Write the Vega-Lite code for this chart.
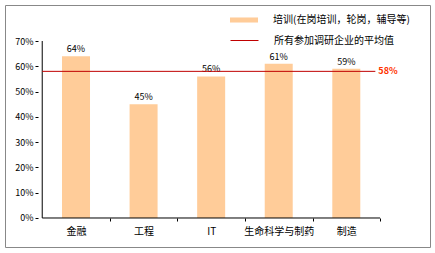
{
  "$schema": "https://vega.github.io/schema/vega-lite/v6.json",
  "width": 425,
  "height": 242,
  "autosize": {"type": "none"},
  "padding": {"left": 5, "top": 5, "right": 5, "bottom": 6},
  "background": "white",
  "config": {
    "view": {"stroke": "#888888", "strokeWidth": 1},
    "font": "Noto Sans CJK SC",
    "axis": {"grid": false, "domain": false, "title": null, "labelColor": "#000000", "tickColor": "#000000", "labelFont": "Noto Sans CJK SC"}
  },
  "datasets": {
    "bars": [
      {"idx": 0, "category": "金融", "value": 0.64},
      {"idx": 1, "category": "工程", "value": 0.45},
      {"idx": 2, "category": "IT", "value": 0.56},
      {"idx": 3, "category": "生命科学与制药", "value": 0.61},
      {"idx": 4, "category": "制造", "value": 0.59}
    ],
    "avg": [{"series": "所有参加调研企业的平均值", "value": 0.58}]
  },
  "layer": [
    {
      "data": {"name": "bars"},
      "mark": {"type": "bar", "width": 28, "color": "#FFCC99"},
      "encoding": {
        "x": {
          "field": "idx", "type": "quantitative",
          "scale": {"domain": [-0.9769, 5.1647], "nice": false, "zero": false},
          "axis": {
            "offset": -29,
            "values": [0, 0.5, 1, 1.5, 2, 2.5, 3, 3.5, 4, 4.5],
            "tickCount": 20,
            "labelExpr": "datum.value % 1 ? '' : ['金融','工程','IT','生命科学与制药','制造'][datum.value]",
            "tickSize": 3,
            "tickOpacity": {"condition": {"test": "datum.value % 1 === 0", "value": 0}, "value": 1},
            "labelPadding": 5,
            "labelFontSize": 10,
            "labelAngle": 0,
            "labelOverlap": false,
            "labelBound": false,
            "labelFlush": false
          }
        },
        "y": {
          "field": "value", "type": "quantitative",
          "scale": {"domain": [-0.1147, 0.8424], "nice": false, "zero": false},
          "axis": {
            "offset": -33,
            "values": [0, 0.1, 0.2, 0.3, 0.4, 0.5, 0.6, 0.7],
            "tickCount": 20,
            "format": ".0%",
            "tickSize": 3,
            "labelPadding": 2,
            "labelFontSize": 9,
            "labelOverlap": false,
            "labelBound": false,
            "labelFlush": false
          }
        },
        "color": {
          "datum": "培训(在岗培训，轮岗，辅导等)",
          "scale": {"range": ["#FFCC99"]},
          "legend": {
            "orient": "none", "legendX": 225, "legendY": 1, "title": null, "padding": 0,
            "symbolType": "M-1,-0.18H1V0.18H-1Z", "symbolSize": 784, "symbolStrokeWidth": 0,
            "labelOffset": 15, "labelFontSize": 10, "labelColor": "#000000"
          }
        }
      }
    },
    {
      "data": {"name": "bars"},
      "mark": {"type": "text", "dy": -7, "fontSize": 9, "color": "#000000"},
      "encoding": {
        "x": {"field": "idx", "type": "quantitative"},
        "y": {"field": "value", "type": "quantitative"},
        "text": {"field": "value", "type": "quantitative", "format": ".0%"}
      }
    },
    {
      "data": {"values": [{}]},
      "mark": {"type": "rule", "color": "#000000", "strokeWidth": 1},
      "encoding": {
        "x": {"datum": -0.5, "type": "quantitative"},
        "x2": {"datum": 4.5},
        "y": {"datum": 0, "type": "quantitative"}
      }
    },
    {
      "data": {"values": [{}]},
      "mark": {"type": "rule", "color": "#000000", "strokeWidth": 1},
      "encoding": {
        "x": {"datum": -0.5, "type": "quantitative"},
        "y": {"datum": 0, "type": "quantitative"},
        "y2": {"datum": 0.7}
      }
    },
    {
      "data": {"name": "avg"},
      "mark": {"type": "rule", "strokeWidth": 1},
      "encoding": {
        "x": {"datum": -0.5, "type": "quantitative"},
        "x2": {"datum": 4.43},
        "y": {"field": "value", "type": "quantitative"},
        "stroke": {
          "field": "series", "type": "nominal",
          "scale": {"range": ["#C00000"]},
          "legend": {
            "orient": "none", "legendX": 225, "legendY": 21, "title": null, "padding": 0,
            "symbolType": "stroke", "symbolSize": 784, "symbolStrokeWidth": 1,
            "labelOffset": 15, "labelFontSize": 10, "labelColor": "#000000"
          }
        }
      }
    },
    {
      "data": {"name": "avg"},
      "mark": {"type": "text", "align": "left", "dx": 3, "fontSize": 9, "fontWeight": "bold", "color": "#FF3300"},
      "encoding": {
        "x": {"datum": 4.43, "type": "quantitative"},
        "y": {"field": "value", "type": "quantitative"},
        "text": {"field": "value", "type": "quantitative", "format": ".0%"}
      }
    }
  ]
}
